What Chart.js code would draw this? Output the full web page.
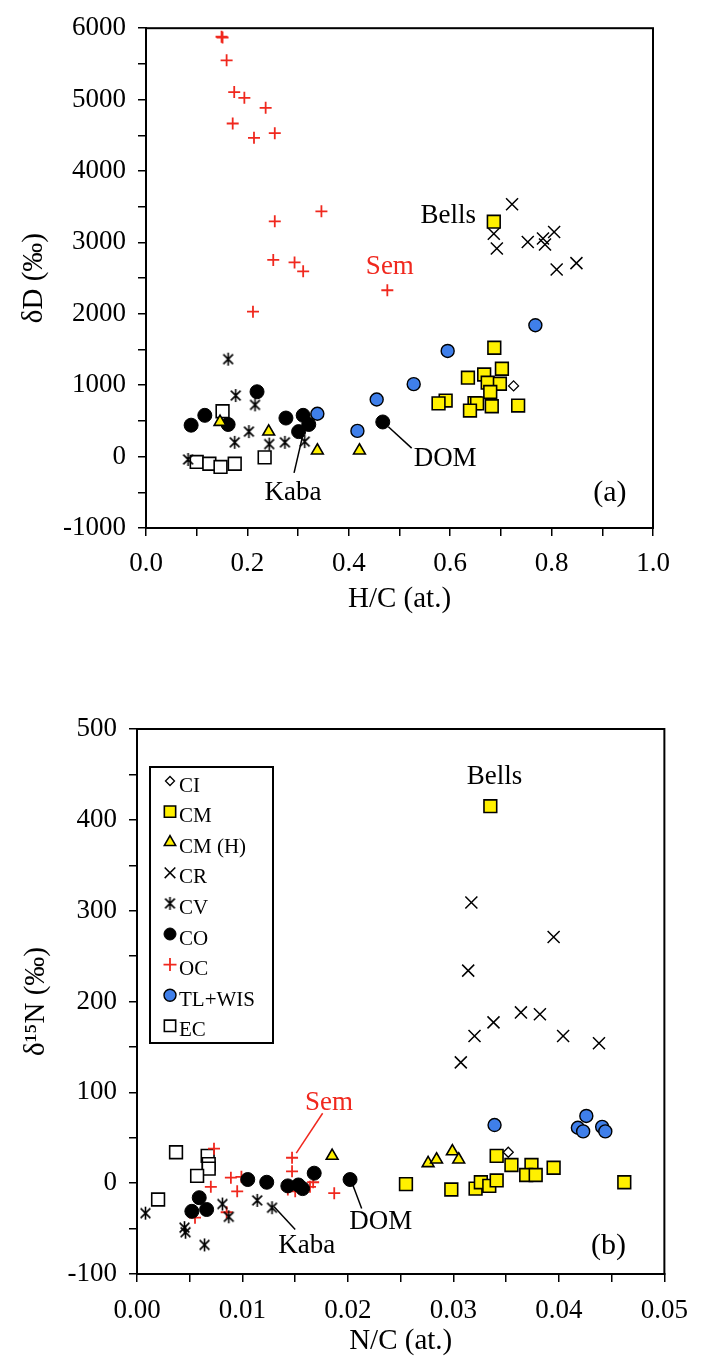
<!DOCTYPE html>
<html>
<head>
<meta charset="UTF-8">
<title>dD vs H/C and d15N vs N/C</title>
<script src="https://cdn.jsdelivr.net/npm/chart.js"></script>
<style>
  body { margin: 0; background: #fff; }
  #wrap { position: relative; width: 701px; height: 1357px; }
  #wrap canvas { position: absolute; left: 0; }
</style>
</head>
<body>
<div id="wrap">
  <canvas id="chartA" width="701" height="620" style="top:0"></canvas>
  <canvas id="chartB" width="701" height="737" style="top:620px"></canvas>
</div>

<script>
// group names, same order in both panels
const groups = ['CI', 'CM', 'CM (H)', 'CR', 'CV', 'CO', 'OC', 'TL+WIS', 'EC'];

// panel (a): H/C (at.) against dD (permil)
const hcCI = [0.725];
const dDCI = [990];
const hcCM = [0.686, 0.687, 0.702, 0.635, 0.667, 0.674, 0.698, 0.679, 0.591, 0.577, 0.648, 0.653, 0.639, 0.682, 0.734];
const dDCM = [3290, 1525, 1230, 1105, 1150, 1035, 1020, 905, 785, 745, 750, 745, 645, 705, 715];
const hcCMH = [0.146, 0.242, 0.338, 0.421];
const dDCMH = [485, 350, 85, 85];
const hcCR = [0.722, 0.686, 0.692, 0.753, 0.783, 0.787, 0.805, 0.810, 0.849];
const dDCR = [3535, 3120, 2915, 3005, 3055, 2970, 3145, 2620, 2710];
const hcCV = [0.162, 0.177, 0.215, 0.203, 0.175, 0.243, 0.274, 0.313, 0.083];
const dDCV = [1365, 855, 725, 350, 200, 175, 200, 210, -40];
const hcCO = [0.089, 0.116, 0.162, 0.219, 0.276, 0.310, 0.321, 0.301, 0.467];
const dDCO = [440, 578, 450, 908, 540, 578, 450, 350, 485];
const hcOC = [0.149, 0.151, 0.159, 0.174, 0.194, 0.236, 0.171, 0.213, 0.254, 0.346, 0.254, 0.251, 0.293, 0.310, 0.211, 0.476];
const dDOC = [5880, 5870, 5550, 5105, 5025, 4885, 4665, 4465, 4530, 3435, 3295, 2755, 2720, 2595, 2030, 2330];
const hcTL = [0.338, 0.417, 0.455, 0.528, 0.595, 0.768];
const dDTL = [600, 360, 800, 1015, 1480, 1840];
const hcEC = [0.151, 0.100, 0.125, 0.147, 0.175, 0.234];
const dDEC = [635, -75, -100, -145, -100, -10];

// panel (b): N/C (at.) against d15N (permil)
const ncCI = [0.0352];
const nCI = [34];
const ncCM = [0.0335, 0.0341, 0.0355, 0.0374, 0.0395, 0.0369, 0.0378, 0.0255, 0.0298, 0.0321, 0.0326, 0.0334, 0.0341, 0.0462];
const nCM = [415, 30, 20, 20, 17, 9, 9, -1, -7, -6, 1, -3, 3, 1];
const ncCMH = [0.0185, 0.0276, 0.0284, 0.0299, 0.0305];
const nCMH = [30, 22, 26, 35, 26];
const ncCR = [0.0317, 0.0395, 0.0314, 0.0364, 0.0382, 0.0338, 0.0320, 0.0404, 0.0438, 0.0307];
const nCR = [309, 271, 234, 188, 186, 177, 162, 162, 154, 133];
const ncCV = [0.0008, 0.0045, 0.0046, 0.0064, 0.0081, 0.0087, 0.0114, 0.0128];
const nCV = [-33, -49, -54, -68, -23, -37, -19, -27];
const ncCO = [0.0105, 0.0123, 0.0143, 0.0153, 0.0157, 0.0168, 0.0202, 0.0059, 0.0052, 0.0066];
const nCO = [4, 1, -3, -2, -6, 11, 4, -16, -31, -29];
const ncOC = [0.0073, 0.0147, 0.0147, 0.0089, 0.0099, 0.0070, 0.0095, 0.0143, 0.0150, 0.0164, 0.0167, 0.0187, 0.0055, 0.0085];
const nOC = [38, 28, 13, 6, 7, -4, -9, -7, -9, -4, 1, -11, -38, -32];
const ncTL = [0.0339, 0.0426, 0.0418, 0.0423, 0.0441, 0.0444];
const nTL = [64, 74, 61, 57, 62, 57];
const ncEC = [0.0037, 0.0067, 0.0068, 0.0068, 0.0057, 0.0020];
const nEC = [34, 30, 21, 16, 8, -18];

// tick labels (the other ticks are unlabelled minor ticks)
const xTicksA = ['0.0', '0.2', '0.4', '0.6', '0.8', '1.0'];
const yTicksA = [-1000, 0, 1000, 2000, 3000, 4000, 5000, 6000];
const xTicksB = ['0.00', '0.01', '0.02', '0.03', '0.04', '0.05'];
const yTicksB = [-100, 0, 100, 200, 300, 400, 500];

const serif = 'Liberation Serif';
const RED = '#f0281e';
const YELLOW = '#fff000';
const BLUE = '#3f7fea';

// "x with a bar" marker used for CV
function cvMarker(size) {
    const c = document.createElement('canvas');
    c.width = size; c.height = size;
    const g = c.getContext('2d');
    const m = size / 2, r = size / 2 - 1;
    g.strokeStyle = '#000';
    g.lineWidth = 1.6;
    g.beginPath();
    g.moveTo(m - r * 0.75, m - r * 0.75); g.lineTo(m + r * 0.75, m + r * 0.75);
    g.moveTo(m + r * 0.75, m - r * 0.75); g.lineTo(m - r * 0.75, m + r * 0.75);
    g.moveTo(m, m - r); g.lineTo(m, m + r);
    g.stroke();
    return c;
}
const cvImg = cvMarker(15);

// marker look per group
const looks = {
    'CI':     { pointStyle: 'rectRot',  radius: 5,   bg: '#fff', border: '#000', bw: 1.3, legendR: 4.5 },
    'CM':     { pointStyle: 'rect',     radius: 9,   bg: YELLOW, border: '#000', bw: 1.6, legendR: 8 },
    'CM (H)': { pointStyle: 'triangle', radius: 6.8, bg: YELLOW, border: '#000', bw: 1.6, legendR: 6.5 },
    'CR':     { pointStyle: 'crossRot', radius: 8.5, bg: '#000', border: '#000', bw: 1.5, legendR: 7.5 },
    'CV':     { pointStyle: cvImg,      radius: 7,   bg: '#000', border: '#000', bw: 1.5, legendR: 7 },
    'CO':     { pointStyle: 'circle',   radius: 7,   bg: '#000', border: '#000', bw: 1,   legendR: 6 },
    'OC':     { pointStyle: 'cross',    radius: 6,   bg: RED,    border: RED,    bw: 1.8, legendR: 6.5 },
    'TL+WIS': { pointStyle: 'circle',   radius: 6.5, bg: BLUE,   border: '#000', bw: 1.4, legendR: 6 },
    'EC':     { pointStyle: 'rect',     radius: 9,   bg: '#fff', border: '#000', bw: 1.6, legendR: 8 }
};

function pts(xs, ys) {
    return xs.map((x, i) => ({ x: x, y: ys[i] }));
}

function makeSets(series) {
    return groups.map((g, i) => {
        const lk = looks[g];
        return {
            label: g,
            data: pts(series[i][0], series[i][1]),
            pointStyle: lk.pointStyle,
            pointRadius: lk.radius,
            pointHoverRadius: lk.radius,
            pointBackgroundColor: lk.bg,
            pointBorderColor: lk.border,
            pointBorderWidth: lk.bw,
            showLine: false
        };
    });
}

const setsA = makeSets([
    [hcCI, dDCI], [hcCM, dDCM], [hcCMH, dDCMH], [hcCR, dDCR], [hcCV, dDCV],
    [hcCO, dDCO], [hcOC, dDOC], [hcTL, dDTL], [hcEC, dDEC]
]);
const setsB = makeSets([
    [ncCI, nCI], [ncCM, nCM], [ncCMH, nCMH], [ncCR, nCR], [ncCV, nCV],
    [ncCO, nCO], [ncOC, nOC], [ncTL, nTL], [ncEC, nEC]
]);

// box round the plot area
const framePlugin = {
    id: 'frame',
    beforeDatasetsDraw(chart) {
        const { ctx, chartArea: a } = chart;
        ctx.save();
        ctx.strokeStyle = '#000';
        ctx.lineWidth = 2;
        ctx.strokeRect(a.left, a.top, a.right - a.left, a.bottom - a.top);
        ctx.restore();
    }
};

// text labels and leader lines, placed in data units
const notesPlugin = {
    id: 'notes',
    afterDatasetsDraw(chart, args, opts) {
        const { ctx, scales: { x, y } } = chart;
        ctx.save();
        (opts.items || []).forEach(n => {
            const col = n.color || '#000';
            if (n.line) {
                ctx.strokeStyle = col;
                ctx.lineWidth = 1.5;
                ctx.beginPath();
                ctx.moveTo(x.getPixelForValue(n.line[0]), y.getPixelForValue(n.line[1]));
                ctx.lineTo(x.getPixelForValue(n.line[2]), y.getPixelForValue(n.line[3]));
                ctx.stroke();
            }
            ctx.fillStyle = col;
            ctx.font = (n.size || 27) + 'px "' + serif + '"';
            ctx.textAlign = 'center';
            ctx.textBaseline = 'middle';
            ctx.fillText(n.text, x.getPixelForValue(n.x), y.getPixelForValue(n.y));
        });
        ctx.restore();
    }
};

// boxed legend inside the top left of panel (b)
const boxLegendPlugin = {
    id: 'boxLegend',
    afterDraw(chart, args, opts) {
        if (!opts.show) return;
        const { ctx, chartArea: a } = chart;
        const left = a.left + 13, top = a.top + 38, w = 123, h = 276;
        ctx.save();
        ctx.strokeStyle = '#000';
        ctx.lineWidth = 2;
        ctx.strokeRect(left, top, w, h);
        chart.data.datasets.forEach((ds, i) => {
            const lk = looks[ds.label];
            const cy = top + 18 + i * 30.6;
            ctx.fillStyle = lk.bg;
            ctx.strokeStyle = lk.border;
            ctx.lineWidth = lk.bw;
            Chart.helpers.drawPoint(ctx, {
                pointStyle: lk.pointStyle, radius: lk.legendR, rotation: 0, borderWidth: lk.bw
            }, left + 20, cy - 4);
            ctx.fillStyle = '#000';
            ctx.font = '21px "' + serif + '"';
            ctx.textAlign = 'left';
            ctx.textBaseline = 'middle';
            ctx.fillText(ds.label, left + 29, cy + 1);
        });
        ctx.restore();
    }
};

function linearAxis(cfg) {
    return {
        type: 'linear',
        min: cfg.min,
        max: cfg.max,
        afterFit: cfg.fit,
        border: { display: true, color: '#000', width: 2 },
        grid: { drawOnChartArea: false, drawTicks: true, tickLength: 8, color: '#000', lineWidth: 1.5 },
        ticks: {
            stepSize: cfg.step,
            autoSkip: false,
            maxRotation: 0,
            padding: cfg.pad,
            color: '#000',
            font: { family: serif, size: cfg.font },
            callback: cfg.label
        },
        title: {
            display: true,
            text: cfg.title,
            color: '#000',
            font: { family: serif, size: cfg.titleSize },
            padding: cfg.titlePad
        }
    };
}

// label only the values listed in the tick arrays, the rest are minor ticks
function labelFrom(list) {
    return v => {
        const hit = list.find(t => Math.abs(Number(t) - v) < 1e-9);
        return hit === undefined ? '' : String(hit);
    };
}

new Chart(document.getElementById('chartA'), {
    type: 'scatter',
    data: { datasets: setsA },
    options: {
        responsive: false,
        animation: false,
        layout: { padding: { left: 0, top: 19, right: 48, bottom: 0 } },
        plugins: {
            legend: { display: false },
            tooltip: { enabled: false },
            notes: {
                items: [
                    { text: 'Bells', x: 0.596, y: 3374 },
                    { text: 'Sem', x: 0.481, y: 2660, color: RED },
                    { text: 'DOM', x: 0.59, y: -30, line: [0.478, 418, 0.524, 119] },
                    { text: 'Kaba', x: 0.29, y: -505, line: [0.310, 321, 0.292, -229] },
                    { text: '(a)', x: 0.915, y: -517, size: 30 }
                ]
            },
            boxLegend: { show: false }
        },
        scales: {
            x: linearAxis({
                min: 0, max: 1, step: 0.1, pad: 12, font: 27,
                fit: s => { s.height = 92; },
                label: labelFrom(xTicksA),
                title: 'H/C (at.)', titleSize: 29, titlePad: { top: 0, bottom: 3 }
            }),
            y: linearAxis({
                min: -1000, max: 6000, step: 500, pad: 12, font: 27,
                fit: s => { s.width = 146; },
                label: labelFrom(yTicksA),
                title: 'δD (‰)', titleSize: 29, titlePad: { top: 17, bottom: 0 }
            })
        }
    },
    plugins: [framePlugin, notesPlugin, boxLegendPlugin]
});

new Chart(document.getElementById('chartB'), {
    type: 'scatter',
    data: { datasets: setsB },
    options: {
        responsive: false,
        animation: false,
        layout: { padding: { left: 0, top: 109, right: 26, bottom: 0 } },
        plugins: {
            legend: { display: false },
            tooltip: { enabled: false },
            notes: {
                items: [
                    { text: 'Bells', x: 0.0339, y: 447 },
                    { text: 'Sem', x: 0.0182, y: 88, color: RED, line: [0.0176, 77, 0.0151, 33] },
                    { text: 'DOM', x: 0.0231, y: -43, line: [0.0204, 0, 0.0213, -28] },
                    { text: 'Kaba', x: 0.0161, y: -69, line: [0.0130, -26, 0.0150, -51] },
                    { text: '(b)', x: 0.0447, y: -69, size: 30 }
                ]
            },
            boxLegend: { show: true }
        },
        scales: {
            x: linearAxis({
                min: 0, max: 0.05, step: 0.005, pad: 13, font: 27,
                fit: s => { s.height = 83; },
                label: labelFrom(xTicksB),
                title: 'N/C (at.)', titleSize: 29, titlePad: { top: 0, bottom: -2 }
            }),
            y: linearAxis({
                min: -100, max: 500, step: 50, pad: 12, font: 27,
                fit: s => { s.width = 137; },
                label: labelFrom(yTicksB),
                title: 'δ¹⁵N (‰)', titleSize: 29, titlePad: { top: 19, bottom: 0 }
            })
        }
    },
    plugins: [framePlugin, notesPlugin, boxLegendPlugin]
});
</script>
</body>
</html>
